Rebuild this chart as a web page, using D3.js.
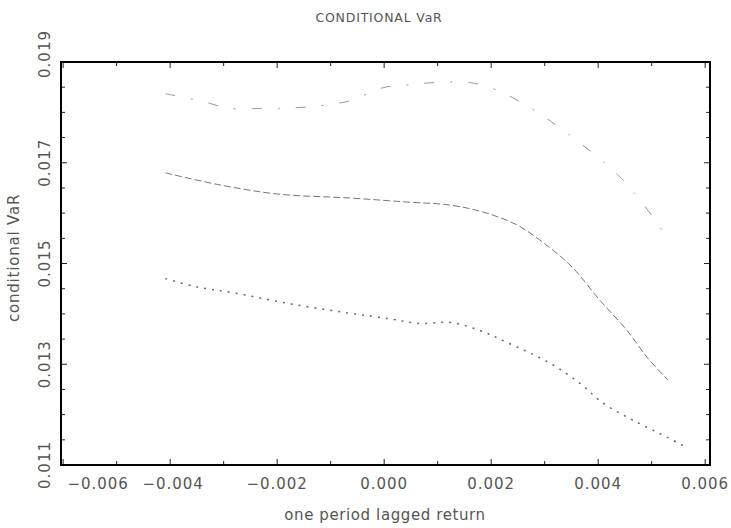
<!DOCTYPE html>
<html>
<head>
<meta charset="utf-8">
<script src="https://cdn.jsdelivr.net/npm/d3@7"></script>
<style>
  body { margin: 0; background: #fff; }
  text { font-family: "DejaVu Sans", sans-serif; fill: #555; }
</style>
</head>
<body>
<div id="chart"></div>
<script>
// data
const upperX = [-0.00409, -0.00344, -0.00288, -0.00226, -0.00170, -0.00120, -0.00064, -0.00002, 0.00049, 0.00092, 0.00161, 0.00204, 0.00222, 0.00273, 0.00325, 0.00436, 0.00484, 0.00521];
const upperY = [0.01837, 0.01823, 0.01808, 0.01808, 0.01809, 0.01813, 0.01823, 0.01849, 0.01855, 0.01859, 0.01859, 0.01847, 0.01839, 0.01809, 0.01772, 0.01677, 0.01618, 0.01564];

const midX = [-0.00409, -0.00312, -0.00200, -0.00064, 0.00043, 0.00123, 0.00185, 0.00249, 0.00310, 0.00353, 0.00404, 0.00454, 0.00492, 0.00531];
const midY = [0.01680, 0.01657, 0.01638, 0.01630, 0.01622, 0.01616, 0.01602, 0.01576, 0.01531, 0.01491, 0.01426, 0.01367, 0.01313, 0.01268];

const lowerX = [-0.00409, -0.00353, -0.00282, -0.00176, -0.00069, 0.00011, 0.00067, 0.00123, 0.00179, 0.00230, 0.00310, 0.00366, 0.00409, 0.00465, 0.00529, 0.00563];
const lowerY = [0.01470, 0.01454, 0.01442, 0.01420, 0.01402, 0.01390, 0.01381, 0.01383, 0.01367, 0.01343, 0.01302, 0.01262, 0.01223, 0.01189, 0.01155, 0.01136];

const xTickLabels = [-0.006, -0.004, -0.002, 0.000, 0.002, 0.004, 0.006];
const yTickLabels = [0.011, 0.013, 0.015, 0.017, 0.019];

const width = 731, height = 528;
const margin = { top: 62, right: 21, bottom: 63, left: 61 };

const svg = d3.select("#chart").append("svg")
  .attr("width", width)
  .attr("height", height);

const x = d3.scaleLinear()
  .domain([-0.00604, 0.00609])
  .range([margin.left, width - margin.right]);

const y = d3.scaleLinear()
  .domain([0.011, 0.019])
  .range([height - margin.bottom, margin.top]);

const x0 = margin.left, x1 = width - margin.right;
const y0 = height - margin.bottom, y1 = margin.top;

// inward ticks on all sides
const xTicks = d3.range(-6, 7).map((d) => d / 1000);
const yTicks = d3.range(0, 17).map((d) => 0.011 + d * 0.0005);
const isMajorX = (d) => Math.abs(Math.round(d * 1000)) % 2 === 0;
const isMajorY = (d) => Math.round((d - 0.011) * 2000) % 4 === 0;

const ticks = svg.append("g").attr("stroke", "#222").attr("stroke-width", 1);
xTicks.forEach((d) => {
  const len = isMajorX(d) ? 6 : 4;
  ticks.append("line").attr("x1", x(d)).attr("x2", x(d)).attr("y1", y0).attr("y2", y0 - len);
  ticks.append("line").attr("x1", x(d)).attr("x2", x(d)).attr("y1", y1).attr("y2", y1 + len);
});
yTicks.forEach((d) => {
  const len = isMajorY(d) ? 6 : 4;
  ticks.append("line").attr("x1", x0).attr("x2", x0 + len).attr("y1", y(d)).attr("y2", y(d));
  ticks.append("line").attr("x1", x1).attr("x2", x1 - len).attr("y1", y(d)).attr("y2", y(d));
});

// frame
svg.append("rect")
  .attr("x", x0).attr("y", y1)
  .attr("width", x1 - x0).attr("height", y0 - y1)
  .attr("fill", "none")
  .attr("stroke", "#000")
  .attr("stroke-width", 2);

const fmt = d3.format(".3f");

svg.append("g").selectAll("text")
  .data(xTickLabels)
  .join("text")
  .attr("x", (d, i) => x(d) + (i === 0 ? 35 : i === 1 ? 3 : 0))
  .attr("y", y0 + 24)
  .attr("text-anchor", "middle")
  .attr("font-size", 15)
  .attr("letter-spacing", 1)
  .text((d) => fmt(d));

svg.append("g").selectAll("text")
  .data(yTickLabels)
  .join("text")
  .attr("transform", (d) => `translate(${x0 - 11},${y(d) - (d === 0.019 ? 8 : 0)}) rotate(-90)`)
  .attr("text-anchor", "middle")
  .attr("font-size", 15)
  .attr("letter-spacing", 1)
  .text((d) => fmt(d));

svg.append("text")
  .attr("x", 379).attr("y", 22)
  .attr("text-anchor", "middle")
  .attr("font-size", 12.5)
  .attr("letter-spacing", 0.8)
  .text("CONDITIONAL VaR");

svg.append("text")
  .attr("x", 385).attr("y", 520)
  .attr("text-anchor", "middle")
  .attr("font-size", 15)
  .attr("letter-spacing", 0.6)
  .text("one period lagged return");

svg.append("text")
  .attr("transform", `translate(19,258) rotate(-90)`)
  .attr("text-anchor", "middle")
  .attr("font-size", 15)
  .attr("letter-spacing", 0.8)
  .text("conditional VaR");

// curves
const line = d3.line()
  .x((d) => x(d[0]))
  .y((d) => y(d[1]))
  .curve(d3.curveCatmullRom);

const series = [
  { xs: upperX, ys: upperY, dash: "10,16,2,16", color: "#999", w: 1 },
  { xs: midX, ys: midY, dash: "7,3", color: "#777", w: 1 },
  { xs: lowerX, ys: lowerY, dash: "2,6", color: "#666", w: 1.5 },
];

series.forEach((s) => {
  svg.append("path")
    .datum(s.xs.map((v, i) => [v, s.ys[i]]))
    .attr("fill", "none")
    .attr("stroke", s.color)
    .attr("stroke-width", s.w)
    .attr("stroke-dasharray", s.dash)
    .attr("d", line);
});
</script>
</body>
</html>
